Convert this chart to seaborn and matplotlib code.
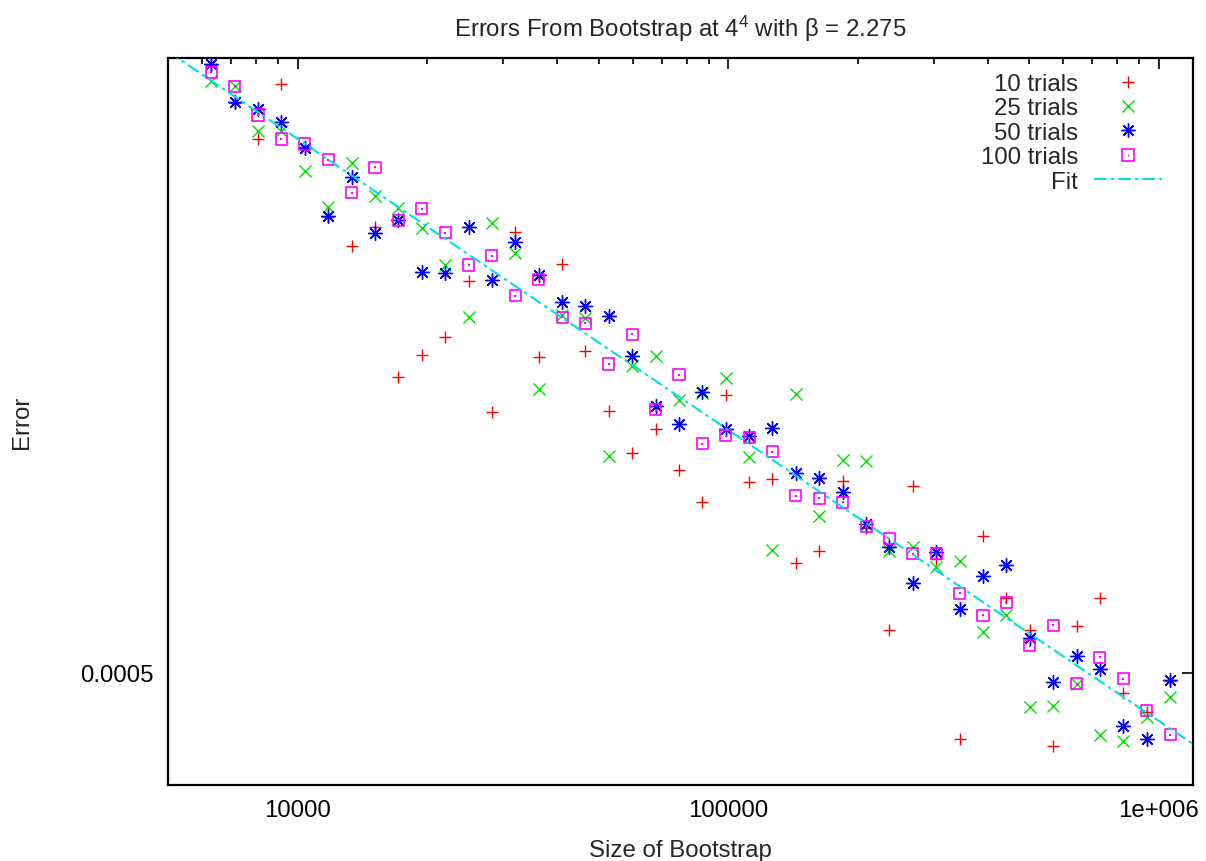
import numpy as np
import pandas as pd
import matplotlib
matplotlib.use("Agg")
import matplotlib.pyplot as plt
from matplotlib.lines import Line2D
from matplotlib.ticker import FixedLocator, FixedFormatter, LogLocator, NullLocator, NullFormatter
import seaborn as sns

# Bootstrap sample sizes
sizes = [6300, 7140, 8090, 9170, 10390, 11780, 13340, 15120, 17140, 19420,
         22000, 24940, 28250, 32020, 36280, 41120, 46590, 52800, 59830, 67800,
         76830, 87060, 98650, 111790, 126680, 143550, 162670, 184340, 208930, 236700,
         268230, 303950, 344430, 390310, 442300, 501300, 568100, 643700, 729500, 826600,
         936900, 1061700]

# Errors for each number of trials
err_10 = [0.005535, 0.004763, 0.004130, 0.005134, 0.004002, 0.003034, 0.002708, 0.002913, 0.001611, 0.001757,
          0.001885, 0.002352, 0.001401, 0.002856, 0.001746, 0.002519, 0.001783, 0.001410, 0.001192, 0.001311,
          0.001116, 0.000984, 0.001500, 0.001062, 0.001076, 0.000772, 0.000808, 0.001069, 0.000885, 0.000593,
          0.001045, 0.000784, 0.000385, 0.000858, 0.000673, 0.000593, 0.000374, 0.000601, 0.000671, 0.000461,
          0.000428, 0.000484]
err_25 = [0.005190, 0.005100, 0.004263, 0.004258, 0.003643, 0.003152, 0.003756, 0.003292, 0.003144, 0.002899,
          0.002509, 0.002045, 0.002963, 0.002631, 0.001534, 0.002058, 0.002034, 0.001180, 0.001684, 0.001747,
          0.001471, 0.001512, 0.001603, 0.001174, 0.000812, 0.001506, 0.000928, 0.001161, 0.001157, 0.000809,
          0.000821, 0.000759, 0.000779, 0.000588, 0.000629, 0.000437, 0.000438, 0.000478, 0.000391, 0.000381,
          0.000419, 0.000454]
err_50 = [0.005557, 0.004776, 0.004651, 0.004412, 0.003981, 0.003042, 0.003558, 0.002848, 0.003002, 0.002438,
          0.002431, 0.002913, 0.002365, 0.002745, 0.002412, 0.002165, 0.002131, 0.002048, 0.001752, 0.001438,
          0.001338, 0.001518, 0.001311, 0.001274, 0.001317, 0.001102, 0.001080, 0.001021, 0.000902, 0.000823,
          0.000712, 0.000807, 0.000642, 0.000732, 0.000766, 0.000573, 0.000481, 0.000534, 0.000507, 0.000405,
          0.000384, 0.000486]
err_100 = [0.005378, 0.005090, 0.004542, 0.004130, 0.004049, 0.003805, 0.003340, 0.003693, 0.002992, 0.003135,
           0.002848, 0.002509, 0.002603, 0.002222, 0.002367, 0.002040, 0.001992, 0.001696, 0.001906, 0.001415,
           0.001624, 0.001236, 0.001277, 0.001267, 0.001199, 0.001007, 0.000997, 0.000981, 0.000893, 0.000849,
           0.000800, 0.000800, 0.000685, 0.000628, 0.000661, 0.000556, 0.000603, 0.000479, 0.000531, 0.000488,
           0.000430, 0.000391]

series_labels = ["10 trials", "25 trials", "50 trials", "100 trials"]

# Power-law fit: error = a * N^b
fit_a = 0.413
fit_b = -0.5

xtick_values = [1e4, 1e5, 1e6]
xtick_labels = ["10000", "100000", "1e+006"]
ytick_values = [0.0005]
ytick_labels = ["0.0005"]

sns.set_style("white")
plt.rcParams["font.family"] = ["Liberation Sans", "DejaVu Sans"]
plt.rcParams["mathtext.default"] = "regular"
plt.rcParams["lines.scale_dashes"] = False

FS = 17.3
W, H = 1206, 862
fig = plt.figure(figsize=(W / 100, H / 100), dpi=100)
L, R, T, B = 168, 1193, 59, 785.7
ax = fig.add_axes([L / W, (H - B) / H, (R - L) / W, (B - T) / H])
ax.set_xscale("log")
ax.set_yscale("log")
ax.set_xlim(5000, 1.2e6)
ax.set_ylim(0.000321, 0.00569)

df = pd.DataFrame({"size": sizes, "e10": err_10, "e25": err_25, "e50": err_50, "e100": err_100})

c_red, c_green, c_blue, c_mag, c_cyan = "#ff0000", "#00e000", "#0000ff", "#ff00ff", "#00e0e0"
star = (8, 2, 0)

sns.scatterplot(data=df, x="size", y="e10", ax=ax, marker="+", s=85, color=c_red,
                linewidths=1.0, legend=False, zorder=3)
sns.scatterplot(data=df, x="size", y="e25", ax=ax, marker="x", s=75, color=c_green,
                linewidths=1.0, legend=False, zorder=4)
sns.scatterplot(data=df, x="size", y="e50", ax=ax, marker=star, s=100, color=c_blue,
                linewidths=1.0, legend=False, zorder=5)
sns.scatterplot(data=df, x="size", y="e100", ax=ax, marker="s", s=64,
                facecolor="none", edgecolor=c_mag, linewidth=1.2, legend=False, zorder=6)
sns.scatterplot(data=df, x="size", y="e100", ax=ax, marker="s", s=1.2, color=c_mag,
                linewidth=0, legend=False, zorder=6)

xs = np.geomspace(5000, 1.2e6, 200)
fit_df = pd.DataFrame({"size": xs, "fit": fit_a * xs ** fit_b})
sns.lineplot(data=fit_df, x="size", y="fit", ax=ax, color=c_cyan, lw=1.5,
             dashes=False, zorder=7, legend=False)
ax.lines[-1].set_dashes((9, 3, 2.5, 3))

ax.set_xlabel("Size of Bootstrap", fontsize=FS, labelpad=13)
ax.set_ylabel("Error", fontsize=FS, labelpad=34)
ax.set_title(r"Errors From Bootstrap at $4^4$ with β = 2.275", fontsize=FS, pad=16)

ax.xaxis.set_major_locator(FixedLocator(xtick_values))
ax.xaxis.set_major_formatter(FixedFormatter(xtick_labels))
ax.xaxis.set_minor_locator(LogLocator(base=10, subs=np.arange(2, 10)))
ax.xaxis.set_minor_formatter(NullFormatter())
ax.yaxis.set_major_locator(FixedLocator(ytick_values))
ax.yaxis.set_major_formatter(FixedFormatter(ytick_labels))
ax.yaxis.set_minor_locator(NullLocator())

ax.tick_params(which="both", direction="in", top=True, right=True, colors="black",
               labelsize=FS, width=1.2)
ax.tick_params(which="major", length=8, pad=10)
ax.tick_params(which="minor", length=4)
for sp in ax.spines.values():
    sp.set_linewidth(1.6)
    sp.set_color("black")

handles = [
    Line2D([], [], ls="none", marker="+", color=c_red, ms=9.2, mew=1.0),
    Line2D([], [], ls="none", marker="x", color=c_green, ms=8.7, mew=1.0),
    Line2D([], [], ls="none", marker=star, color=c_blue, ms=10, mew=1.0),
    (Line2D([], [], ls="none", marker="s", color=c_mag, mfc="none", ms=8, mew=1.2),
     Line2D([], [], ls="none", marker="s", color=c_mag, ms=1.1, mew=0)),
    Line2D([], [], color=c_cyan, lw=1.5, dashes=(9, 3, 2.5, 3)),
]
labels = series_labels + ["Fit"]
ax.legend(handles, labels, loc="upper right", bbox_to_anchor=(1162 / W, (H - 74) / H),
          bbox_transform=fig.transFigure, frameon=False, markerfirst=False,
          fontsize=FS, handlelength=2.83, handletextpad=0.67, labelspacing=0.1,
          borderpad=0, borderaxespad=0)

fig.savefig("out.png", dpi=100, facecolor="white")
